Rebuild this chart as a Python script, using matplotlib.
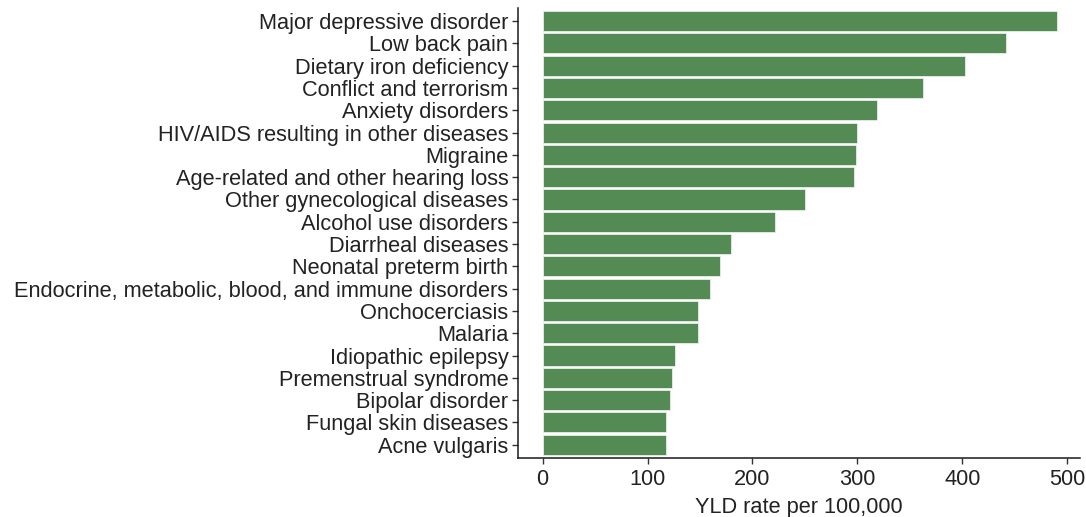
import matplotlib
matplotlib.use("Agg")
import matplotlib.pyplot as plt

causes = [
    "Major depressive disorder",
    "Low back pain",
    "Dietary iron deficiency",
    "Conflict and terrorism",
    "Anxiety disorders",
    "HIV/AIDS resulting in other diseases",
    "Migraine",
    "Age-related and other hearing loss",
    "Other gynecological diseases",
    "Alcohol use disorders",
    "Diarrheal diseases",
    "Neonatal preterm birth",
    "Endocrine, metabolic, blood, and immune disorders",
    "Onchocerciasis",
    "Malaria",
    "Idiopathic epilepsy",
    "Premenstrual syndrome",
    "Bipolar disorder",
    "Fungal skin diseases",
    "Acne vulgaris",
]
yld_rate = [490, 441.5, 402.5, 363, 319, 300, 299, 297, 250.5, 221.5,
            180, 169.5, 160, 148.5, 148.5, 126, 123, 121.5, 117.5, 117.5]

plt.rcParams["font.family"] = ["Liberation Sans", "DejaVu Sans"]

fig = plt.figure(figsize=(10.86, 5.17), dpi=100)
ax = fig.add_axes([0.477, 0.114, 0.5176, 0.871])

n = len(causes)
pos = list(range(n))[::-1]
ax.barh(pos, yld_rate, height=0.9, color="#548B54", edgecolor="#e8f0e8", linewidth=0.6)

ax.set_yticks(pos)
ax.set_yticklabels(causes)
ax.set_ylim(-0.6, n - 0.4)
ax.set_xlim(-23.5, 512.4)
ax.set_xticks([0, 100, 200, 300, 400, 500])
ax.set_xlabel("YLD rate per 100,000", fontsize=15.7, color="#222222", labelpad=5)

for side in ["top", "right"]:
    ax.spines[side].set_visible(False)
for side in ["left", "bottom"]:
    ax.spines[side].set_linewidth(1.1)
    ax.spines[side].set_color("#1a1a1a")

ax.tick_params(axis="both", labelsize=15.7, labelcolor="#222222", color="#333333",
               length=4, width=1)
ax.tick_params(axis="y", pad=3)
ax.tick_params(axis="x", pad=4)

fig.savefig("out.png", dpi=100)
